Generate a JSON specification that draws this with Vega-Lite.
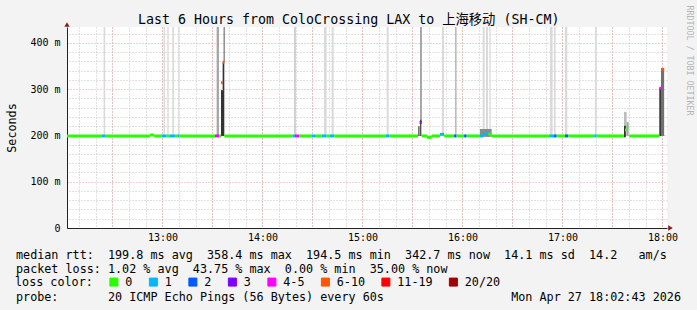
{
  "$schema": "https://vega.github.io/schema/vega-lite/v6.json",
  "width": 600,
  "height": 201,
  "autosize": {"type": "none"},
  "padding": {"left": 67, "top": 27, "right": 30, "bottom": 82},
  "background": "#f3f3f3",
  "config": {"view": {"fill": "white", "stroke": null}, "font": "DejaVu Sans Mono"},
  "title": {
    "text": "Last 6 Hours from ColoCrossing LAX to 上海移动 (SH-CM)",
    "font": "DejaVu Sans Mono, Noto Sans CJK SC",
    "fontSize": 13.3,
    "fontWeight": "normal",
    "color": "black",
    "anchor": "start",
    "frame": "group",
    "dx": 71,
    "dy": 35,
    "offset": 2.5,
    "baseline": "alphabetic"
  },
  "datasets": {
    "medianrows": [
      {"t0": "2026-04-27T12:02:43Z", "t1": "2026-04-27T12:23:40Z", "med": 199, "loss": "0"},
      {"t0": "2026-04-27T12:23:40Z", "t1": "2026-04-27T12:25:30Z", "med": 199, "loss": "1"},
      {"t0": "2026-04-27T12:25:30Z", "t1": "2026-04-27T12:52:30Z", "med": 199, "loss": "0"},
      {"t0": "2026-04-27T12:52:30Z", "t1": "2026-04-27T12:55:00Z", "med": 201, "loss": "0"},
      {"t0": "2026-04-27T12:55:00Z", "t1": "2026-04-27T12:59:30Z", "med": 199, "loss": "0"},
      {"t0": "2026-04-27T12:59:30Z", "t1": "2026-04-27T13:02:30Z", "med": 199, "loss": "1"},
      {"t0": "2026-04-27T13:02:30Z", "t1": "2026-04-27T13:04:30Z", "med": 199, "loss": "0"},
      {"t0": "2026-04-27T13:04:30Z", "t1": "2026-04-27T13:07:30Z", "med": 199, "loss": "1"},
      {"t0": "2026-04-27T13:07:30Z", "t1": "2026-04-27T13:08:54Z", "med": 199, "loss": "0"},
      {"t0": "2026-04-27T13:08:54Z", "t1": "2026-04-27T13:10:06Z", "med": 199, "loss": "1"},
      {"t0": "2026-04-27T13:10:06Z", "t1": "2026-04-27T13:31:30Z", "med": 199, "loss": "0"},
      {"t0": "2026-04-27T13:31:30Z", "t1": "2026-04-27T13:33:54Z", "med": 199, "loss": "4-5"},
      {"t0": "2026-04-27T13:33:54Z", "t1": "2026-04-27T13:35:06Z", "med": 199, "loss": "0"},
      {"t0": "2026-04-27T13:35:06Z", "t1": "2026-04-27T13:36:06Z", "med": 314, "loss": "6-10"},
      {"t0": "2026-04-27T13:36:06Z", "t1": "2026-04-27T13:37:06Z", "med": 358.4, "loss": "6-10"},
      {"t0": "2026-04-27T13:37:06Z", "t1": "2026-04-27T14:18:00Z", "med": 199, "loss": "0"},
      {"t0": "2026-04-27T14:18:00Z", "t1": "2026-04-27T14:19:30Z", "med": 199, "loss": "1"},
      {"t0": "2026-04-27T14:19:30Z", "t1": "2026-04-27T14:22:00Z", "med": 199, "loss": "4-5"},
      {"t0": "2026-04-27T14:22:00Z", "t1": "2026-04-27T14:29:30Z", "med": 199, "loss": "0"},
      {"t0": "2026-04-27T14:29:30Z", "t1": "2026-04-27T14:31:30Z", "med": 199, "loss": "1"},
      {"t0": "2026-04-27T14:31:30Z", "t1": "2026-04-27T14:35:30Z", "med": 199, "loss": "0"},
      {"t0": "2026-04-27T14:35:30Z", "t1": "2026-04-27T14:38:30Z", "med": 199, "loss": "1"},
      {"t0": "2026-04-27T14:38:30Z", "t1": "2026-04-27T14:40:30Z", "med": 199, "loss": "0"},
      {"t0": "2026-04-27T14:40:30Z", "t1": "2026-04-27T14:43:00Z", "med": 199, "loss": "1"},
      {"t0": "2026-04-27T14:43:00Z", "t1": "2026-04-27T15:14:00Z", "med": 199, "loss": "0"},
      {"t0": "2026-04-27T15:14:00Z", "t1": "2026-04-27T15:16:00Z", "med": 199, "loss": "1"},
      {"t0": "2026-04-27T15:16:00Z", "t1": "2026-04-27T15:33:20Z", "med": 199, "loss": "0"},
      {"t0": "2026-04-27T15:34:18Z", "t1": "2026-04-27T15:35:30Z", "med": 228, "loss": "3"},
      {"t0": "2026-04-27T15:35:30Z", "t1": "2026-04-27T15:38:40Z", "med": 199, "loss": "0"},
      {"t0": "2026-04-27T15:38:40Z", "t1": "2026-04-27T15:41:30Z", "med": 196, "loss": "0"},
      {"t0": "2026-04-27T15:41:30Z", "t1": "2026-04-27T15:46:30Z", "med": 199, "loss": "0"},
      {"t0": "2026-04-27T15:46:30Z", "t1": "2026-04-27T15:49:00Z", "med": 202.5, "loss": "1"},
      {"t0": "2026-04-27T15:49:00Z", "t1": "2026-04-27T15:55:00Z", "med": 199, "loss": "0"},
      {"t0": "2026-04-27T15:55:00Z", "t1": "2026-04-27T15:56:30Z", "med": 199, "loss": "2"},
      {"t0": "2026-04-27T15:56:30Z", "t1": "2026-04-27T16:01:00Z", "med": 199, "loss": "0"},
      {"t0": "2026-04-27T16:01:00Z", "t1": "2026-04-27T16:02:30Z", "med": 199, "loss": "2"},
      {"t0": "2026-04-27T16:02:30Z", "t1": "2026-04-27T16:10:30Z", "med": 199, "loss": "0"},
      {"t0": "2026-04-27T16:10:30Z", "t1": "2026-04-27T16:12:30Z", "med": 199, "loss": "1"},
      {"t0": "2026-04-27T16:12:30Z", "t1": "2026-04-27T16:14:00Z", "med": 202, "loss": "1"},
      {"t0": "2026-04-27T16:14:00Z", "t1": "2026-04-27T16:15:30Z", "med": 206, "loss": "1"},
      {"t0": "2026-04-27T16:15:30Z", "t1": "2026-04-27T16:17:30Z", "med": 203, "loss": "0"},
      {"t0": "2026-04-27T16:17:30Z", "t1": "2026-04-27T16:52:00Z", "med": 199, "loss": "0"},
      {"t0": "2026-04-27T16:52:00Z", "t1": "2026-04-27T16:55:00Z", "med": 199, "loss": "1"},
      {"t0": "2026-04-27T16:55:00Z", "t1": "2026-04-27T16:56:30Z", "med": 199, "loss": "2"},
      {"t0": "2026-04-27T16:56:30Z", "t1": "2026-04-27T17:01:30Z", "med": 199, "loss": "0"},
      {"t0": "2026-04-27T17:01:30Z", "t1": "2026-04-27T17:03:30Z", "med": 199, "loss": "2"},
      {"t0": "2026-04-27T17:03:30Z", "t1": "2026-04-27T17:19:00Z", "med": 199, "loss": "0"},
      {"t0": "2026-04-27T17:19:00Z", "t1": "2026-04-27T17:20:30Z", "med": 199, "loss": "1"},
      {"t0": "2026-04-27T17:20:30Z", "t1": "2026-04-27T17:36:50Z", "med": 199, "loss": "0"},
      {"t0": "2026-04-27T17:37:30Z", "t1": "2026-04-27T17:38:30Z", "med": 212, "loss": "0"},
      {"t0": "2026-04-27T17:38:30Z", "t1": "2026-04-27T17:39:30Z", "med": 218, "loss": "0"},
      {"t0": "2026-04-27T17:40:00Z", "t1": "2026-04-27T17:58:06Z", "med": 199, "loss": "0"},
      {"t0": "2026-04-27T17:58:06Z", "t1": "2026-04-27T17:59:06Z", "med": 302, "loss": "4-5"},
      {"t0": "2026-04-27T17:59:06Z", "t1": "2026-04-27T18:01:00Z", "med": 342.7, "loss": "6-10"}
    ],
    "smokerows": [
      {"t0": "2026-04-27T12:24:40Z", "t1": "2026-04-27T12:25:40Z", "lo": 201, "hi": 440, "shade": "light"},
      {"t0": "2026-04-27T13:00:40Z", "t1": "2026-04-27T13:01:30Z", "lo": 201, "hi": 440, "shade": "light"},
      {"t0": "2026-04-27T13:02:54Z", "t1": "2026-04-27T13:03:42Z", "lo": 201, "hi": 440, "shade": "light"},
      {"t0": "2026-04-27T13:05:54Z", "t1": "2026-04-27T13:06:54Z", "lo": 201, "hi": 440, "shade": "light"},
      {"t0": "2026-04-27T13:09:24Z", "t1": "2026-04-27T13:10:06Z", "lo": 201, "hi": 440, "shade": "light"},
      {"t0": "2026-04-27T13:32:30Z", "t1": "2026-04-27T13:33:54Z", "lo": 201, "hi": 440, "shade": "mid"},
      {"t0": "2026-04-27T13:35:06Z", "t1": "2026-04-27T13:37:06Z", "lo": 199, "hi": 298, "shade": "dark"},
      {"t0": "2026-04-27T13:36:06Z", "t1": "2026-04-27T13:37:06Z", "lo": 298, "hi": 358, "shade": "dark"},
      {"t0": "2026-04-27T13:36:42Z", "t1": "2026-04-27T13:37:18Z", "lo": 358, "hi": 440, "shade": "darkmid"},
      {"t0": "2026-04-27T14:19:06Z", "t1": "2026-04-27T14:19:54Z", "lo": 201, "hi": 440, "shade": "midlight"},
      {"t0": "2026-04-27T14:36:54Z", "t1": "2026-04-27T14:38:30Z", "lo": 201, "hi": 440, "shade": "light"},
      {"t0": "2026-04-27T14:41:30Z", "t1": "2026-04-27T14:42:42Z", "lo": 201, "hi": 440, "shade": "light"},
      {"t0": "2026-04-27T15:14:30Z", "t1": "2026-04-27T15:15:42Z", "lo": 201, "hi": 440, "shade": "light"},
      {"t0": "2026-04-27T15:34:30Z", "t1": "2026-04-27T15:35:42Z", "lo": 229, "hi": 440, "shade": "mid"},
      {"t0": "2026-04-27T15:33:30Z", "t1": "2026-04-27T15:34:12Z", "lo": 199, "hi": 220, "shade": "dark"},
      {"t0": "2026-04-27T15:34:36Z", "t1": "2026-04-27T15:35:18Z", "lo": 199, "hi": 234, "shade": "dark"},
      {"t0": "2026-04-27T15:47:42Z", "t1": "2026-04-27T15:48:54Z", "lo": 203, "hi": 440, "shade": "light"},
      {"t0": "2026-04-27T15:55:30Z", "t1": "2026-04-27T15:56:30Z", "lo": 201, "hi": 440, "shade": "midlight"},
      {"t0": "2026-04-27T16:12:06Z", "t1": "2026-04-27T16:13:18Z", "lo": 210, "hi": 440, "shade": "light"},
      {"t0": "2026-04-27T16:14:06Z", "t1": "2026-04-27T16:15:18Z", "lo": 210, "hi": 440, "shade": "light"},
      {"t0": "2026-04-27T16:16:06Z", "t1": "2026-04-27T16:16:54Z", "lo": 210, "hi": 440, "shade": "light"},
      {"t0": "2026-04-27T16:10:30Z", "t1": "2026-04-27T16:17:30Z", "lo": 197, "hi": 214, "shade": "grey"},
      {"t0": "2026-04-27T16:52:30Z", "t1": "2026-04-27T16:54:06Z", "lo": 201, "hi": 440, "shade": "light"},
      {"t0": "2026-04-27T16:54:54Z", "t1": "2026-04-27T16:55:54Z", "lo": 201, "hi": 440, "shade": "light"},
      {"t0": "2026-04-27T17:01:30Z", "t1": "2026-04-27T17:02:54Z", "lo": 201, "hi": 440, "shade": "light"},
      {"t0": "2026-04-27T17:19:30Z", "t1": "2026-04-27T17:20:30Z", "lo": 201, "hi": 440, "shade": "light"},
      {"t0": "2026-04-27T17:36:54Z", "t1": "2026-04-27T17:38:30Z", "lo": 199, "hi": 251, "shade": "midlight"},
      {"t0": "2026-04-27T17:38:30Z", "t1": "2026-04-27T17:39:42Z", "lo": 199, "hi": 229, "shade": "mid"},
      {"t0": "2026-04-27T17:36:54Z", "t1": "2026-04-27T17:38:00Z", "lo": 196, "hi": 221, "shade": "dark"},
      {"t0": "2026-04-27T17:58:06Z", "t1": "2026-04-27T17:59:06Z", "lo": 199, "hi": 302, "shade": "dark"},
      {"t0": "2026-04-27T17:59:06Z", "t1": "2026-04-27T18:01:00Z", "lo": 199, "hi": 343, "shade": "grey2"}
    ]
  },
  "resolve": {"axis": {"x": "independent", "y": "independent"}},
  "layer": [
    {
      "data": {"name": "smokerows"},
      "mark": {"type": "rect", "clip": true},
      "encoding": {
        "x": {
          "field": "t0", "type": "temporal",
          "scale": {"type": "utc", "domain": [1777291363000, 1777312963000]},
          "axis": {
            "orient": "bottom",
            "values": [1777291800000, 1777292400000, 1777293000000, 1777293600000, 1777294200000, 1777294800000, 1777295400000, 1777296000000, 1777296600000, 1777297200000, 1777297800000, 1777298400000, 1777299000000, 1777299600000, 1777300200000, 1777300800000, 1777301400000, 1777302000000, 1777302600000, 1777303200000, 1777303800000, 1777304400000, 1777305000000, 1777305600000, 1777306200000, 1777306800000, 1777307400000, 1777308000000, 1777308600000, 1777309200000, 1777309800000, 1777310400000, 1777311000000, 1777311600000, 1777312200000, 1777312800000],
            "grid": true, "gridColor": "#c4c4c4", "gridDash": [1, 2], "gridWidth": 1,
            "labels": false, "ticks": false, "domain": false,
            "title": [
              "median rtt:\u00a0\u00a0199.8\u00a0ms\u00a0avg\u00a0\u00a0358.4\u00a0ms\u00a0max\u00a0\u00a0194.5\u00a0ms\u00a0min\u00a0\u00a0342.7\u00a0ms\u00a0now\u00a0\u00a014.1\u00a0ms\u00a0sd\u00a0\u00a014.2\u00a0\u00a0\u00a0am/s",
              "packet\u00a0loss:\u00a01.02\u00a0%\u00a0avg\u00a0\u00a043.75\u00a0%\u00a0max\u00a0\u00a00.00\u00a0%\u00a0min\u00a0\u00a035.00\u00a0%\u00a0now"
            ],
            "titleX": -51.5, "titleY": 30, "titleAlign": "left",
            "titleBaseline": "alphabetic", "titleAngle": 0,
            "titleFont": "DejaVu Sans Mono", "titleFontSize": 11.75, "titleFontWeight": "normal",
            "titleColor": "black", "titleLineHeight": 14
          }
        },
        "x2": {"field": "t1"},
        "y": {
          "field": "lo", "type": "quantitative",
          "scale": {"domain": [0, 434.5], "nice": false, "zero": true},
          "axis": {
            "orient": "right",
            "values": [20, 40, 60, 80, 120, 140, 160, 180, 220, 240, 260, 280, 320, 340, 360, 380, 420],
            "grid": true, "gridColor": "#c4c4c4", "gridDash": [1, 2], "gridWidth": 1,
            "labels": false, "ticks": false, "domain": false,
            "title": "RRDTOOL / TOBI OETIKER",
            "titleX": 21, "titleY": 33, "titleAngle": 90, "titleAlign": "center", "titleBaseline": "middle",
            "titleFont": "DejaVu Sans Mono", "titleFontSize": 8.3, "titleFontWeight": "normal",
            "titleColor": "#b4b4b4"
          }
        },
        "y2": {"field": "hi"},
        "fill": {
          "field": "shade", "type": "nominal", "legend": null,
          "scale": {"domain": ["light", "midlight", "mid", "grey", "grey2", "darkmid", "dark"],
                    "range": ["#dadada", "#bcbcbc", "#a6a6a6", "#8a8a8a", "#707070", "#555555", "#333333"]}
        }
      }
    },
    {
      "data": {"name": "medianrows"},
      "mark": {"type": "rule", "strokeWidth": 3, "clip": true},
      "encoding": {
        "x": {
          "field": "t0", "type": "temporal",
          "axis": {
            "orient": "bottom",
            "values": [1777293000000, 1777294800000, 1777296600000, 1777298400000, 1777300200000, 1777302000000, 1777303800000, 1777305600000, 1777307400000, 1777309200000, 1777311000000, 1777312800000],
            "grid": true, "gridColor": "#eaa0a0", "gridDash": [1, 2], "gridWidth": 1,
            "ticks": false, "domain": true, "domainColor": "#222222", "domainWidth": 1,
            "labelExpr": "utcminutes(datum.value) == 0 ? utcFormat(datum.value, '%H:%M') : ''",
            "labelFont": "DejaVu Sans Mono", "labelFontSize": 10, "labelColor": "black",
            "labelPadding": 4, "labelFlush": false, "labelOverlap": false,
            "title": "probe:\u00a0\u00a0\u00a0\u00a0\u00a0\u00a0\u00a020\u00a0ICMP\u00a0Echo\u00a0Pings\u00a0(56\u00a0Bytes)\u00a0every\u00a060s\u00a0\u00a0\u00a0\u00a0\u00a0\u00a0\u00a0\u00a0\u00a0\u00a0\u00a0\u00a0\u00a0\u00a0\u00a0\u00a0\u00a0\u00a0Mon\u00a0Apr\u00a027\u00a018:02:43\u00a02026",
            "titleX": -51.5, "titleY": 72, "titleAlign": "left",
            "titleBaseline": "alphabetic", "titleAngle": 0,
            "titleFont": "DejaVu Sans Mono", "titleFontSize": 11.75, "titleFontWeight": "normal",
            "titleColor": "black"
          }
        },
        "x2": {"field": "t1"},
        "y": {
          "field": "med", "type": "quantitative",
          "axis": {
            "orient": "left",
            "values": [0, 100, 200, 300, 400],
            "grid": true, "gridColor": "#eaa0a0", "gridDash": [1, 2], "gridWidth": 1,
            "ticks": false, "domain": true, "domainColor": "#222222", "domainWidth": 1,
            "labelExpr": "datum.value == 0 ? '0' : datum.value + ' m'",
            "labelFont": "DejaVu Sans Mono", "labelFontSize": 10, "labelColor": "black",
            "labelPadding": 7, "labelFlush": false, "labelOverlap": false,
            "title": "Seconds",
            "titleX": -56, "titleY": 100.5, "titleAngle": -90, "titleAlign": "center", "titleBaseline": "middle",
            "titleFont": "DejaVu Sans Mono", "titleFontSize": 11.75, "titleFontWeight": "normal",
            "titleColor": "black"
          }
        },
        "color": {
          "field": "loss", "type": "nominal",
          "scale": {"domain": ["0", "1", "2", "3", "4-5", "6-10", "11-19", "20/20"],
                    "range": ["#26ff00", "#00b8ff", "#0059ff", "#7e00ff", "#ff00ff", "#ff5500", "#ff0000", "#a00000"]},
          "legend": {
            "title": "loss color:",
            "orient": "none", "legendX": -52, "legendY": 249,
            "direction": "horizontal",
            "titleOrient": "left",
            "titleFont": "DejaVu Sans Mono", "titleFontSize": 11.75, "titleFontWeight": "normal",
            "titleColor": "black", "titlePadding": 15,
            "labelFont": "DejaVu Sans Mono", "labelFontSize": 11.75, "labelColor": "black",
            "symbolType": "square", "symbolSize": 64,
            "symbolStrokeWidth": 1,
            "labelOffset": 5.5, "columnPadding": 13.5, "padding": 0,
            "encode": {
              "symbols": {"update": {
                "fill": {"scale": "color", "field": "value"},
                "stroke": {"value": "black"},
                "strokeWidth": {"value": 1},
                "fillOpacity": {"value": 1}
              }}
            }
          }
        }
      }
    },
    {
      "data": {"values": [{"a": 1}]},
      "mark": {"type": "point", "shape": "triangle-up", "size": 28, "filled": true, "color": "#8b1a1a", "opacity": 1, "clip": false},
      "encoding": {
        "x": {"datum": 1777291363000, "type": "temporal", "axis": null},
        "y": {"datum": 440, "type": "quantitative", "axis": null}
      }
    },
    {
      "data": {"values": [{"a": 1}]},
      "mark": {"type": "point", "shape": "triangle-right", "size": 28, "filled": true, "color": "#8b1a1a", "opacity": 1, "clip": false},
      "encoding": {
        "x": {"datum": 1777313089000, "type": "temporal", "axis": null},
        "y": {"datum": 0, "type": "quantitative", "axis": null}
      }
    }
  ]
}
